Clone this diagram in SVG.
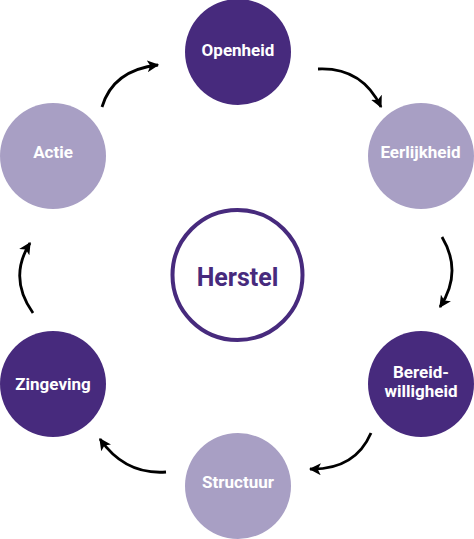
<svg xmlns="http://www.w3.org/2000/svg" width="474" height="539" viewBox="0 0 474 539">
<style>
.dark{fill:#472a7d}
.light{fill:#a89fc4}
.lbl{font-family:Roboto,"Liberation Sans",sans-serif;font-weight:700;font-size:17px;fill:#ffffff;text-anchor:middle}
.conn{fill:none;stroke:#000000;stroke-width:2.8;marker-end:url(#ah)}
</style>
<defs>
<marker id="ah" viewBox="0 0 10 10" refX="9" refY="5" markerWidth="12" markerHeight="12" markerUnits="userSpaceOnUse" orient="auto">
<path d="M0,0 L10,5 L0,10 L2.5,5 z" fill="#000000"/>
</marker>
</defs>
<rect width="474" height="539" fill="#ffffff"/>
<g id="connectors">
<path class="conn" d="M102,107 Q113,70 158,65"/>
<path class="conn" d="M318,69 Q362,67 381,107"/>
<path class="conn" d="M442,237 Q463,272 440,307"/>
<path class="conn" d="M371,433 Q355,470 310,469"/>
<path class="conn" d="M166,472 Q125,475 100,439"/>
<path class="conn" d="M33,313 Q8,278 30,243"/>
</g>
<g id="herstel">
<circle cx="237.5" cy="275" r="65" fill="#ffffff" stroke="#472a7d" stroke-width="4"/>
<text x="237.5" y="286" font-family="Roboto,'Liberation Sans',sans-serif" font-weight="700" font-size="25" fill="#472a7d" text-anchor="middle">Herstel</text>
</g>
<g id="openheid">
<circle class="dark" cx="238" cy="52" r="53"/>
<text class="lbl" x="238" y="56">Openheid</text>
</g>
<g id="eerlijkheid">
<circle class="light" cx="421" cy="156" r="53"/>
<text class="lbl" x="420.5" y="158">Eerlijkheid</text>
</g>
<g id="bereidwilligheid">
<circle class="dark" cx="421" cy="384" r="53"/>
<text class="lbl" x="421" y="378">Bereid-</text>
<text class="lbl" x="421" y="397">willigheid</text>
</g>
<g id="structuur">
<circle class="light" cx="238" cy="486" r="53"/>
<text class="lbl" x="238" y="488">Structuur</text>
</g>
<g id="zingeving">
<circle class="dark" cx="53" cy="384" r="53"/>
<text class="lbl" x="53" y="390">Zingeving</text>
</g>
<g id="actie">
<circle class="light" cx="53" cy="156" r="53"/>
<text class="lbl" x="53" y="158">Actie</text>
</g>
</svg>
